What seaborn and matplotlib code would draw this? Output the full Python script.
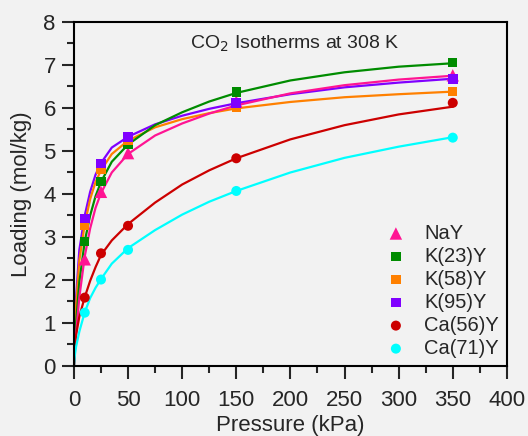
import seaborn as sns
import matplotlib.pyplot as plt

# measured points (kPa, mol/kg)
p_pts = [10, 25, 50, 150, 350]
nay_pts = [2.48, 4.05, 4.95, 6.15, 6.76]
k23_pts = [2.90, 4.29, 5.16, 6.37, 7.05]
k58_pts = [3.28, 4.57, 5.24, 6.01, 6.38]
k95_pts = [3.43, 4.71, 5.32, 6.12, 6.67]
ca56_pts = [1.59, 2.62, 3.26, 4.83, 6.12]
ca71_pts = [1.24, 2.01, 2.70, 4.07, 5.31]

# fitted curves
p_fit = [0, 1, 2, 5, 10, 15, 20, 25, 35, 50, 75, 100, 125, 150, 200, 250, 300, 350]
nay_fit = [0, 0.40, 0.75, 1.60, 2.55, 3.20, 3.68, 4.02, 4.50, 4.93, 5.36, 5.64, 5.87, 6.06, 6.34, 6.53, 6.66, 6.75]
k23_fit = [0, 0.55, 1.00, 1.95, 2.90, 3.50, 3.95, 4.28, 4.75, 5.15, 5.60, 5.90, 6.15, 6.35, 6.64, 6.83, 6.96, 7.04]
k58_fit = [0, 0.85, 1.40, 2.45, 3.30, 3.88, 4.28, 4.55, 4.93, 5.24, 5.55, 5.74, 5.88, 5.99, 6.14, 6.25, 6.32, 6.38]
k95_fit = [0, 1.00, 1.60, 2.70, 3.50, 4.05, 4.45, 4.72, 5.08, 5.33, 5.62, 5.82, 5.98, 6.11, 6.32, 6.48, 6.59, 6.68]
ca56_fit = [0, 0.45, 0.72, 1.15, 1.60, 1.98, 2.30, 2.58, 2.92, 3.30, 3.80, 4.22, 4.55, 4.83, 5.27, 5.60, 5.85, 6.03]
ca71_fit = [0, 0.28, 0.45, 0.80, 1.25, 1.58, 1.82, 2.02, 2.38, 2.74, 3.16, 3.52, 3.82, 4.07, 4.50, 4.84, 5.10, 5.32]

names = ["NaY", "K(23)Y", "K(58)Y", "K(95)Y", "Ca(56)Y", "Ca(71)Y"]
colors = ["#ff1493", "#008c00", "#ff8000", "#8000ff", "#cc0000", "#00ffff"]
markers = ["^", "s", "s", "s", "o", "o"]
sizes = [80, 45, 45, 50, 52, 52]
pts = [nay_pts, k23_pts, k58_pts, k95_pts, ca56_pts, ca71_pts]
fits = [nay_fit, k23_fit, k58_fit, k95_fit, ca56_fit, ca71_fit]
line_order = [3, 2, 1, 0, 4, 5]

sns.set_style("ticks")
plt.rcParams["font.family"] = ["Liberation Sans", "DejaVu Sans"]

fig = plt.figure(figsize=(5.28, 4.36), dpi=100, facecolor="#f2f2f2")
ax = fig.add_axes([0.140, 0.1606, 0.820, 0.789])
ax.set_facecolor("#f2f2f2")

for i in line_order:
    sns.lineplot(x=p_fit, y=fits[i], color=colors[i], linewidth=1.6, ax=ax, legend=False)

for name, c, m, s, y in zip(names, colors, markers, sizes, pts):
    sns.scatterplot(x=p_pts, y=y, color=c, marker=m, s=s, edgecolor="none",
                    ax=ax, label=name, zorder=3)

ax.set_xlim(0, 400)
ax.set_ylim(0, 8)
ax.set_xticks(range(0, 401, 50))
ax.set_xticks(range(25, 400, 50), minor=True)
ax.set_yticks(range(0, 9))
ax.set_yticks([i + 0.5 for i in range(8)], minor=True)
ax.tick_params(which="major", length=9, width=1.5, labelsize=16, direction="out", pad=4)
ax.tick_params(which="minor", length=5, width=1.5, direction="out")
ax.tick_params(axis="x", which="major", pad=8)
for sp in ax.spines.values():
    sp.set_linewidth(1.5)
    sp.set_color("black")

ax.set_xlabel("Pressure (kPa)", fontsize=16, labelpad=3)
ax.set_ylabel("Loading (mol/kg)", fontsize=16, labelpad=8)
ax.text(0.51, 0.935, "CO$_2$ Isotherms at 308 K", transform=ax.transAxes,
        ha="center", va="center", fontsize=14)

ax.legend(loc="lower right", frameon=False, fontsize=14.5, handlelength=1.0,
          handletextpad=0.9, labelspacing=0.2, borderaxespad=0.0,
          bbox_to_anchor=(1.0, 0.0))

fig.savefig("out.png", dpi=100, facecolor=fig.get_facecolor())
